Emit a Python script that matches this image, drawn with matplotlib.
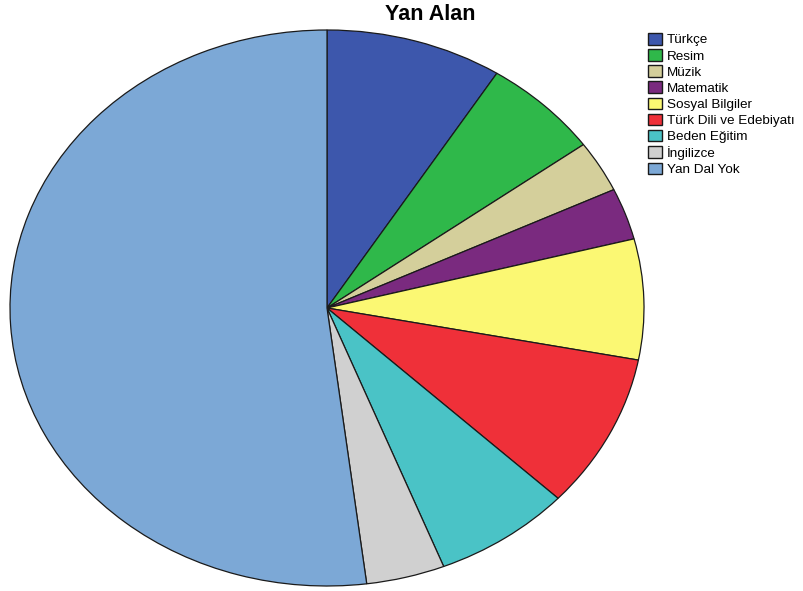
import matplotlib
matplotlib.use("Agg")
import matplotlib.pyplot as plt

labels = ["Türkçe", "Resim", "Müzik", "Matematik", "Sosyal Bilgiler",
          "Türk Dili ve Edebiyatı", "Beden Eğitim", "İngilizce", "Yan Dal Yok"]
counts = [9, 6, 3, 3, 7, 9, 7, 4, 52]
colors = ["#3D57AC", "#2FB84A", "#D4CF9B", "#7A2A7F", "#FBF873",
          "#EF3039", "#4AC3C6", "#D0D0D0", "#7CA8D6"]

plt.rcParams["font.family"] = ["Liberation Sans", "DejaVu Sans"]

W, H = 804, 591
fig = plt.figure(figsize=(W / 100, H / 100), dpi=100)
# ellipse: x 10..644, y 30..586 (pixels from top)
ax = fig.add_axes([10 / W, (H - 586) / H, 634 / W, 556 / H])
wedges, _ = ax.pie(counts, colors=colors, startangle=90, counterclock=False,
                   radius=1, wedgeprops=dict(edgecolor="#1a1a1a", linewidth=0.9))
ax.set_aspect("auto")
ax.set_xlim(-1.0, 1.0)
ax.set_ylim(-1.0, 1.0)
ax.axis("off")

fig.text(430 / W, 1 - 15 / H, "Yan Alan", ha="center", va="center",
         fontsize=15.5, fontweight="bold")

leg = fig.legend(wedges, labels, loc="upper left", bbox_to_anchor=(648 / W, 1 - 33 / H),
                 frameon=False, fontsize=9.7, handlelength=1.05, handleheight=0.95,
                 handletextpad=0.35, labelspacing=0.2, borderaxespad=0, borderpad=0)
for h in leg.legend_handles:
    h.set_edgecolor("#1a1a1a")
    h.set_linewidth(1.0)

fig.savefig("out.png", dpi=100)
